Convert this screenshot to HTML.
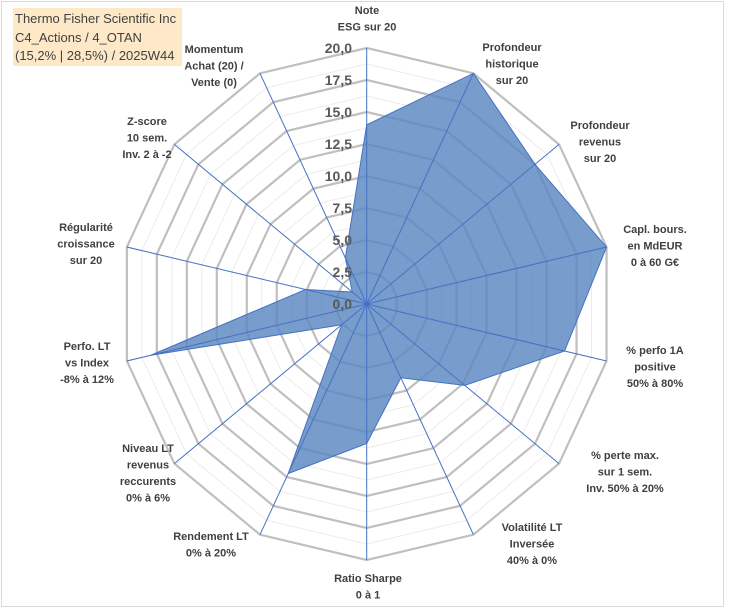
<!DOCTYPE html>
<html><head><meta charset="utf-8"><style>
html,body{margin:0;padding:0;background:#fff;}
#wrap{position:relative;width:729px;height:610px;overflow:hidden;font-family:"Liberation Sans",sans-serif;}
#frame{position:absolute;left:1px;top:1px;width:723px;height:606px;border:1px solid #d9d9d9;box-sizing:border-box;}
#title{position:absolute;left:13px;top:8px;width:169px;height:58px;background:#fde9c8;color:#404040;font-size:13px;line-height:18.5px;padding:2px 0 0 2px;box-sizing:border-box;white-space:nowrap;}
svg{position:absolute;left:0;top:0;}
.lbl{font-weight:bold;font-size:11px;fill:#404040;}
.tick{font-weight:bold;font-size:14px;fill:#595959;}
</style></head><body>
<div id="wrap">
<div id="frame"></div>
<svg id="chart" width="729" height="610"></svg>
<div id="title">Thermo Fisher Scientific Inc<br>C4_Actions / 4_OTAN<br>(15,2% | 28,5%) / 2025W44</div>
</div>
<script>
const categories=[["Note","ESG sur 20"],["Profondeur","historique","sur 20"],["Profondeur","revenus","sur 20"],["Capl. bours.","en MdEUR","0 à 60 G€"],["% perfo 1A","positive","50% à 80%"],["% perte max.","sur 1 sem.","Inv. 50% à 20%"],["Volatilité LT","Inversée","40% à 0%"],["Ratio Sharpe","0 à 1"],["Rendement LT","0% à 20%"],["Niveau LT","revenus","reccurents","0% à 6%"],["Perfo. LT","vs Index","-8% à 12%"],["Régularité","croissance","sur 20"],["Z-score","10 sem.","Inv. 2 à -2"],["Momentum","Achat (20) /","Vente (0)"]];
const values=[14,20,17.5,20,16.5,10.2,6.4,10.9,14.7,2.6,18,5.1,1.5,4];
const tickLabels=["0,0","2,5","5,0","7,5","10,0","12,5","15,0","17,5","20,0"];
const maxVal=20;
const labelPos=[[367,10],[512,47],[600,125],[655,229],[655,350],[625,455],[532,527],[368,578],[211,536],[148,448],[87,346],[86,227],[147,121],[214,49]];
const NS="http://www.w3.org/2000/svg";
const svg=document.getElementById('chart');
const cx=366.7,cy=304,rx=246,ry=256,n=categories.length;
function pt(i,v){const a=2*Math.PI*i/n;return [cx+rx*(v/maxVal)*Math.sin(a),cy-ry*(v/maxVal)*Math.cos(a)];}
function mk(t,attrs){const e=document.createElementNS(NS,t);for(const k in attrs)e.setAttribute(k,attrs[k]);svg.appendChild(e);return e;}
for(let k=1;k<=16;k++){const v=k*1.25;const pts=[];for(let i=0;i<n;i++)pts.push(pt(i,v).join(','));
 const major=k%2===0;
 const g=mk('polygon',{points:pts.join(' '),fill:'none',stroke:major?'#bfbfbf':'#ececec','stroke-width':major?2.2:1});
 
 }
const sp=values.map((v,i)=>pt(i,v).join(',')).join(' ');
const poly=mk('polygon',{points:sp,fill:'#5a86bf','fill-opacity':0.82,stroke:'#4472c4','stroke-width':1});


for(let i=0;i<n;i++){const p=pt(i,maxVal);const l=mk('line',{x1:cx,y1:cy,x2:p[0],y2:p[1],stroke:'#4472c4','stroke-width':1});
 
 }
tickLabels.forEach((t,k)=>{const y=cy-ry*(k*2.5/maxVal);const e=mk('text',{x:352,y:y+5,'text-anchor':'end',class:'tick'});e.textContent=t;
 
 });
categories.forEach((lines,i)=>{const [x,y]=labelPos[i];const e=mk('text',{x:x,y:y+4,'text-anchor':'middle',class:'lbl'});
 
 
 lines.forEach((s,j)=>{const ts=document.createElementNS(NS,'tspan');ts.setAttribute('x',x);ts.setAttribute('dy',j===0?0:16.5);ts.textContent=s;e.appendChild(ts);});});
</script>
</body></html>
